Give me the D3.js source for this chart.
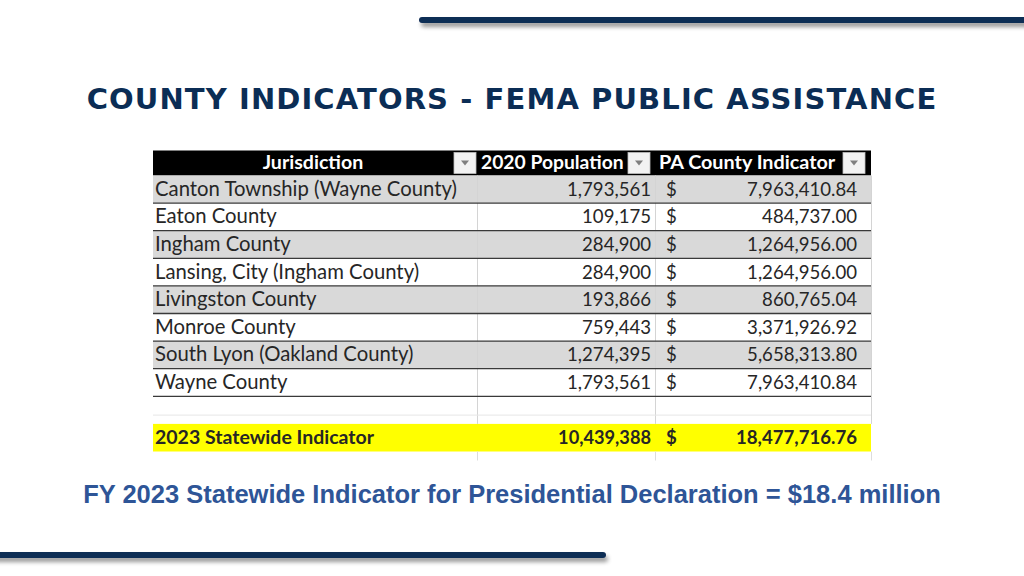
<!DOCTYPE html>
<html><head><meta charset="utf-8">
<script src="https://cdn.jsdelivr.net/npm/d3@7"></script>
<style>html,body{margin:0;padding:0;background:#fff;}svg{display:block;}</style>
</head><body>
<svg id="c" width="1024" height="576"></svg>
<script>
const title = "COUNTY INDICATORS - FEMA PUBLIC ASSISTANCE";
const footer = "FY 2023 Statewide Indicator for Presidential Declaration = $18.4 million";
const columns = ["Jurisdiction", "2020 Population", "PA County Indicator"];
const jurisdictions = ["Canton Township (Wayne County)", "Eaton County", "Ingham County", "Lansing, City (Ingham County)", "Livingston County", "Monroe County", "South Lyon (Oakland County)", "Wayne County"];
const population = [1793561, 109175, 284900, 284900, 193866, 759443, 1274395, 1793561];
const indicator = [7963410.84, 484737.00, 1264956.00, 1264956.00, 860765.04, 3371926.92, 5658313.80, 7963410.84];
const totalLabel = "2023 Statewide Indicator";
const totalPopulation = 10439388;
const totalIndicator = 18477716.76;

const svg = d3.select("#c");
const defs = svg.append("defs");
const f = defs.append("filter").attr("id","sh").attr("filterUnits","userSpaceOnUse")
  .attr("x",-20).attr("y",0).attr("width",1070).attr("height",576);
f.append("feGaussianBlur").attr("in","SourceAlpha").attr("stdDeviation",2);
f.append("feOffset").attr("dx",2).attr("dy",4).attr("result","o");
f.append("feComponentTransfer").attr("result","b").append("feFuncA").attr("type","linear").attr("slope",0.4);
const m = f.append("feMerge"); m.append("feMergeNode").attr("in","b"); m.append("feMergeNode").attr("in","SourceGraphic");

const navy = "#0b2d55";
svg.append("rect").attr("x",419).attr("y",17).attr("width",620).attr("height",6).attr("rx",3)
  .attr("fill",navy).attr("filter","url(#sh)");
svg.append("rect").attr("x",-10).attr("y",552).attr("width",616).attr("height",6).attr("rx",3)
  .attr("fill",navy).attr("filter","url(#sh)");

svg.append("text").attr("x",512).attr("y",109).attr("text-anchor","middle")
  .attr("font-family","DejaVu Sans").attr("font-weight","bold").attr("font-size",29)
  .attr("letter-spacing",1.1).attr("fill",navy).text(title);

svg.append("text").attr("x",512).attr("y",503).attr("text-anchor","middle")
  .attr("font-family","Liberation Sans, Arial").attr("font-weight","bold").attr("font-size",25.5)
  .attr("fill","#2e5597").text(footer);

// table
const rowKeys = jurisdictions.map((d,i)=>"r"+i).concat(["blank","total"]);
const y = d3.scaleBand().domain(rowKeys).range([175.5, 451.5]);
const colEdges = [153, 477, 655, 871];
const hdrTop = 150.5, hdrBot = 175.5;
const fmtInt = d3.format(",");
const fmtMoney = d3.format(",.2f");
const font = "Lato, Carlito, Calibri, sans-serif";
const fsLabel = 20.3, fsNum = 18.6;
const tg = svg.append("g");

// header
tg.append("rect").attr("x",colEdges[0]).attr("y",hdrTop).attr("width",colEdges[3]-colEdges[0]).attr("height",hdrBot-hdrTop).attr("fill","#000");
const hdrX = [313, 481, 659];
const hdrAnchor = ["middle","start","start"];
const hdrFs = [19.6, 19.3, 19.8];
columns.forEach((c,i)=>{
  tg.append("text").attr("x",hdrX[i]).attr("y",hdrBot-6.5).attr("text-anchor",hdrAnchor[i])
    .attr("font-family",font).attr("font-weight","bold").attr("font-size",hdrFs[i]).attr("fill","#fff").text(c);
});
// dropdown buttons
const btnX = [454, 628, 843];
btnX.forEach(bx=>{
  tg.append("rect").attr("x",bx).attr("y",hdrTop+2).attr("width",22).attr("height",21).attr("fill","#f2f2f2").attr("stroke","#bfbfbf").attr("stroke-width",0.8);
  tg.append("path").attr("d",`M${bx+7},${hdrTop+10} L${bx+15},${hdrTop+10} L${bx+11},${hdrTop+15} Z`).attr("fill","#7f7f7f");
});

// body rows
jurisdictions.forEach((j,i)=>{
  const k = "r"+i;
  tg.append("rect").attr("x",colEdges[0]).attr("y",y(k)).attr("width",colEdges[3]-colEdges[0]).attr("height",y.bandwidth())
    .attr("fill", i%2===0 ? "#d9d9d9" : "#fff");
});
tg.append("rect").attr("x",colEdges[0]).attr("y",y("total")).attr("width",colEdges[3]-colEdges[0]).attr("height",y.bandwidth()).attr("fill","#ffff00");

[colEdges[1], colEdges[2], colEdges[3]].forEach(x=>{
  tg.append("line").attr("x1",x+0.5).attr("x2",x+0.5).attr("y1",hdrBot).attr("y2",y("total")).attr("stroke","#d4d4d4").attr("stroke-width",1);
  tg.append("line").attr("x1",x+0.5).attr("x2",x+0.5).attr("y1",y("total")+y.bandwidth()).attr("y2",y("total")+y.bandwidth()+9).attr("stroke","#dcdcdc").attr("stroke-width",1);
});
jurisdictions.forEach((j,i)=>{
  const yy = y("r"+i)+y.bandwidth();
  tg.append("line").attr("x1",colEdges[0]).attr("x2",colEdges[3]).attr("y1",yy).attr("y2",yy).attr("stroke","#3a3a3a").attr("stroke-width",1.3);
});
tg.append("line").attr("x1",colEdges[0]).attr("x2",colEdges[3]).attr("y1",y("blank")+y.bandwidth()/2+5).attr("y2",y("blank")+y.bandwidth()/2+5).attr("stroke","#e6e6e6").attr("stroke-width",1);

const txtCol = "#262626";
function row(k, label, pop, ind, bold){
  const by = y(k)+y.bandwidth()/2+6.5;
  const w = bold ? "bold" : "normal";
  tg.append("text").attr("x",155).attr("y",by).attr("font-family",font).attr("font-weight",w).attr("font-size",bold?19.5:fsLabel).attr("fill",txtCol).text(label);
  tg.append("text").attr("x",651).attr("y",by).attr("text-anchor","end").attr("font-family",font).attr("font-weight",w).attr("font-size",bold?18.2:fsNum).attr("fill",txtCol).text(fmtInt(pop));
  tg.append("text").attr("x",666).attr("y",by).attr("font-family",font).attr("font-weight",w).attr("font-size",fsNum).attr("fill",txtCol).text("$");
  tg.append("text").attr("x",857).attr("y",by).attr("text-anchor","end").attr("font-family",font).attr("font-weight",w).attr("font-size",fsNum).attr("fill",txtCol).text(fmtMoney(ind));
}
jurisdictions.forEach((j,i)=>row("r"+i, j, population[i], indicator[i], false));
row("total", totalLabel, totalPopulation, totalIndicator, true);
</script>
</body></html>
